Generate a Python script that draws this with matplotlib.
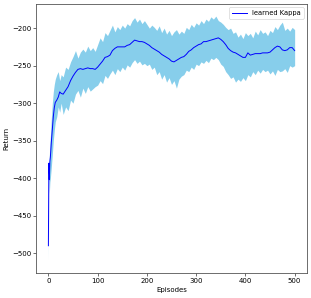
import numpy as np
import matplotlib
matplotlib.use("Agg")
import matplotlib.pyplot as plt

# ---------------- data ----------------
episodes = [0, 1, 2, 3, 4, 6, 8, 10, 12, 14, 17, 20, 23, 26, 30,
            35, 40, 45, 50, 55, 60, 65, 70, 75, 80, 85, 90, 95, 100,
            105, 110, 115, 120, 125, 130, 135, 140, 145, 150,
            155, 160, 165, 170, 175, 180, 185, 190, 195, 200,
            205, 210, 215, 220, 225, 230, 235, 240, 245, 250,
            255, 260, 265, 270, 275, 280, 285, 290, 295, 300,
            305, 310, 315, 320, 325, 330, 335, 340, 345, 350,
            355, 360, 365, 370, 375, 380, 385, 390, 395, 400,
            405, 410, 415, 420, 425, 430, 435, 440, 445, 450,
            455, 460, 465, 470, 475, 480, 485, 490, 495, 500]

mean_return = [-490, -380, -402, -378, -372, -352, -335, -318, -306, -299, -296, -292, -285, -287, -288,
               -283, -278, -270, -264, -259, -255, -254, -255, -254, -253, -254, -254, -255, -252,
               -248, -244, -239, -238, -236, -230, -227, -225, -225, -225,
               -225, -223, -222, -219, -216, -217, -218, -218, -219, -221,
               -223, -226, -228, -230, -232, -235, -237, -239, -241, -244,
               -245, -243, -241, -239, -238, -235, -231, -229, -226, -224,
               -222, -221, -218, -218, -217, -216, -215, -214, -213, -215,
               -218, -222, -227, -230, -232, -233, -235, -237, -239, -239,
               -233, -236, -235, -234, -234, -234, -233, -233, -233, -232,
               -229, -226, -224, -225, -229, -230, -229, -226, -226, -230]

upper = [-478, -365, -385, -355, -345, -320, -300, -285, -275, -268, -262, -258, -270, -262, -265,
         -252, -255, -245, -238, -230, -240, -232, -228, -232, -224, -230, -226, -231, -222,
         -213, -218, -206, -210, -203, -196, -205, -198, -202, -196,
         -200, -194, -197, -190, -186, -192, -188, -194, -190, -195,
         -200, -196, -199, -203, -197, -206, -200, -208, -203, -210,
         -205, -202, -208, -204, -207, -199, -202, -195, -199, -193,
         -196, -190, -194, -188, -191, -185, -188, -184, -190, -192,
         -195, -199, -202, -200, -207, -205, -212, -208, -214, -206,
         -210, -207, -213, -204, -209, -202, -207, -205, -210, -203,
         -206, -198, -202, -196, -192, -203, -200, -204, -199, -202]

lower = [-510, -398, -420, -405, -400, -385, -368, -350, -336, -325, -318, -305, -312, -300, -315,
         -305, -310, -296, -300, -288, -283, -292, -280, -287, -278, -284, -281, -278, -276,
         -270, -274, -263, -267, -261, -256, -262, -254, -258, -252,
         -256, -249, -252, -246, -242, -247, -244, -249, -247, -250,
         -248, -255, -252, -262, -258, -268, -262, -272, -266, -275,
         -270, -280, -268, -264, -262, -256, -258, -252, -255, -248,
         -250, -245, -247, -243, -246, -240, -242, -239, -242, -248,
         -251, -258, -262, -267, -265, -272, -268, -271, -266, -270,
         -262, -265, -258, -262, -256, -260, -255, -258, -256, -261,
         -257, -263, -255, -258, -257, -254, -259, -250, -252, -250]

# ---------------- plot ----------------
fig = plt.figure(figsize=(3.11, 2.98), dpi=100)
ax = fig.add_axes([0.116, 0.084, 0.871, 0.903])

ax.fill_between(episodes, lower, upper, color='skyblue', linewidth=0)
ax.plot(episodes, mean_return, color='b', linewidth=0.7, label='learned Kappa')

ax.set_xlabel("Episodes", fontsize=5, labelpad=2)
ax.set_ylabel("Return", fontsize=5, labelpad=2)
ax.set_xticks([0, 100, 200, 300, 400, 500])
ax.set_yticks([-500, -450, -400, -350, -300, -250, -200])
ax.tick_params(labelsize=5, length=2, width=0.4, pad=1.5)
for s in ax.spines.values():
    s.set_linewidth(0.6)
    s.set_color('#555555')

leg = ax.legend(loc='upper right', fontsize=4.9, handlelength=2.2,
                borderpad=0.4, framealpha=1)
leg.get_frame().set_linewidth(0.4)

fig.savefig("out.png", dpi=100)
